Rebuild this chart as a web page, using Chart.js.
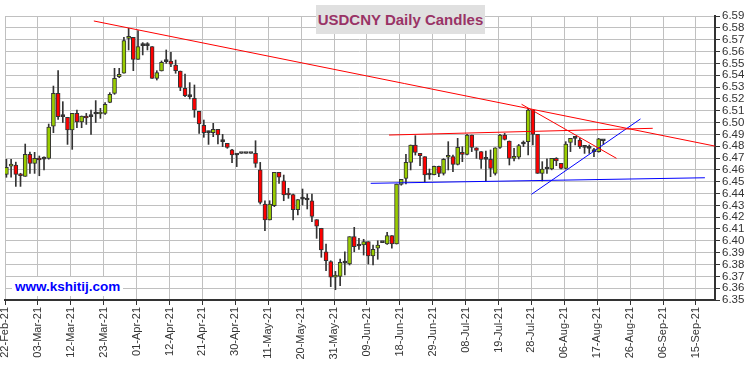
<!DOCTYPE html>
<html>
<head>
<meta charset="utf-8">
<style>
    body { margin: 0; background: #fff; }
    #wrap { position: relative; width: 750px; height: 366px; }
    #title {
        position: absolute; left: 316px; top: 5px; width: 169px; height: 29px;
        background: #e0e0e0; color: #993366; font: bold 15px "Liberation Sans", Arial, sans-serif;
        line-height: 29px; text-align: center;
    }
    #site {
        position: absolute; left: 12px; top: 277px; padding: 0 3px; background: #fff;
        color: #0000ff; font: bold 13.5px "Liberation Sans", Arial, sans-serif; line-height: 19px;
    }
</style>
</head>
<body>
<div id="wrap">
    <canvas id="myChart" width="750" height="366"></canvas>
    <div id="title">USDCNY Daily Candles</div>
    <div id="site">www.kshitij.com</div>
</div>
<script src="https://cdn.jsdelivr.net/npm/chart.js"></script>
<script>
    // daily candles, one per trading day starting 22-Feb-21
    const openP = [
        6.4562, 6.4632, 6.4640, 6.4552, 6.4545, 6.4731, 6.4655, 6.4697, 6.4690, 6.4697,
        6.4968, 6.5246, 6.5050, 6.5044, 6.4937, 6.5077, 6.5004, 6.5055, 6.5050, 6.5072,
        6.5072, 6.5077, 6.5170, 6.5246, 6.5387, 6.5416, 6.5711, 6.5720, 6.5534, 6.5650,
        6.5650, 6.5641, 6.5373, 6.5435, 6.5514, 6.5520, 6.5486, 6.5435, 6.5289, 6.5218,
        6.5204, 6.5094, 6.4976, 6.4914, 6.4914, 6.4942, 6.4838, 6.4824, 6.4768, 6.4725,
        6.4738, 6.4738, 6.4738, 6.4739, 6.4601, 6.4311, 6.4176, 6.4297, 6.4579, 6.4508,
        6.4390, 6.4390, 6.4263, 6.4353, 6.4345, 6.4339, 6.4179, 6.4106, 6.3908, 6.3824,
        6.3692, 6.3700, 6.3811, 6.3804, 6.4035, 6.3956, 6.3965, 6.3993, 6.3872, 6.3937,
        6.3985, 6.3973, 6.4044, 6.3973, 6.4476, 6.4528, 6.4663, 6.4810, 6.4739, 6.4711,
        6.4556, 6.4560, 6.4630, 6.4570, 6.4706, 6.4711, 6.4646, 6.4748, 6.4731, 6.4894,
        6.4787, 6.4754, 6.4689, 6.4689, 6.4570, 6.4790, 6.4894, 6.4844, 6.4697, 6.4706,
        6.4818, 6.4838, 6.5106, 6.4900, 6.4570, 6.4607, 6.4607, 6.4697, 6.4655, 6.4613,
        6.4832, 6.4866, 6.4852, 6.4790, 6.4782, 6.4754, 6.4754, 6.4846
    ];
    const highP = [
        6.4689, 6.4689, 6.4665, 6.4571, 6.4818, 6.4750, 6.4748, 6.4717, 6.4710, 6.4987,
        6.5308, 6.5438, 6.5176, 6.5044, 6.5077, 6.5104, 6.5055, 6.5077, 6.5105, 6.5185,
        6.5120, 6.5168, 6.5252, 6.5458, 6.5458, 6.5720, 6.5796, 6.5720, 6.5776, 6.5675,
        6.5675, 6.5641, 6.5438, 6.5520, 6.5613, 6.5593, 6.5528, 6.5435, 6.5410, 6.5337,
        6.5317, 6.5094, 6.5021, 6.4928, 6.4993, 6.4942, 6.4900, 6.4824, 6.4773, 6.4734,
        6.4738, 6.4738, 6.4738, 6.4846, 6.4663, 6.4339, 6.4339, 6.4579, 6.4579, 6.4556,
        6.4444, 6.4396, 6.4348, 6.4438, 6.4396, 6.4396, 6.4179, 6.4106, 6.3973, 6.3832,
        6.3742, 6.3846, 6.3908, 6.4035, 6.4114, 6.4021, 6.4013, 6.3993, 6.3965, 6.4001,
        6.3985, 6.4072, 6.4044, 6.4480, 6.4520, 6.4731, 6.4810, 6.4889, 6.4739, 6.4711,
        6.4607, 6.4632, 6.4632, 6.4695, 6.4838, 6.4725, 6.4866, 6.4796, 6.4900, 6.4894,
        6.4787, 6.4754, 6.4758, 6.4768, 6.4787, 6.4900, 6.4908, 6.4844, 6.4782, 6.4815,
        6.4844, 6.5120, 6.5106, 6.4900, 6.4669, 6.4692, 6.4697, 6.4703, 6.4655, 6.4838,
        6.4866, 6.4872, 6.4866, 6.4796, 6.4810, 6.4782, 6.4866, 6.4852
    ];
    const lowP = [
        6.4537, 6.4537, 6.4460, 6.4460, 6.4545, 6.4570, 6.4570, 6.4550, 6.4600, 6.4690,
        6.4914, 6.5027, 6.5000, 6.4815, 6.4773, 6.4956, 6.4956, 6.4984, 6.4900, 6.5000,
        6.5035, 6.5069, 6.5167, 6.5238, 6.5379, 6.5416, 6.5613, 6.5438, 6.5534, 6.5571,
        6.5613, 6.5373, 6.5359, 6.5435, 6.5500, 6.5472, 6.5416, 6.5269, 6.5218, 6.5199,
        6.5044, 6.4908, 6.4875, 6.4815, 6.4880, 6.4818, 6.4796, 6.4782, 6.4661, 6.4627,
        6.4738, 6.4738, 6.4738, 6.4621, 6.4311, 6.4086, 6.4176, 6.4289, 6.4486, 6.4339,
        6.4359, 6.4176, 6.4218, 6.4303, 6.4269, 6.4162, 6.4021, 6.3861, 6.3748, 6.3613,
        6.3587, 6.3621, 6.3711, 6.3796, 6.3908, 6.3928, 6.3880, 6.3804, 6.3796, 6.3844,
        6.3985, 6.3970, 6.3937, 6.3973, 6.4470, 6.4480, 6.4599, 6.4725, 6.4635, 6.4500,
        6.4520, 6.4556, 6.4542, 6.4556, 6.4599, 6.4585, 6.4641, 6.4669, 6.4725, 6.4754,
        6.4697, 6.4613, 6.4506, 6.4542, 6.4556, 6.4782, 6.4852, 6.4641, 6.4675, 6.4692,
        6.4796, 6.4725, 6.4810, 6.4570, 6.4506, 6.4570, 6.4600, 6.4635, 6.4607, 6.4607,
        6.4754, 6.4810, 6.4782, 6.4739, 6.4739, 6.4711, 6.4749, 6.4815
    ];
    const closeP = [
        6.4621, 6.4636, 6.4562, 6.4550, 6.4731, 6.4655, 6.4697, 6.4683, 6.4690, 6.4962,
        6.5246, 6.5049, 6.5050, 6.4937, 6.5077, 6.5004, 6.5055, 6.5038, 6.5050, 6.5072,
        6.5075, 6.5154, 6.5238, 6.5373, 6.5407, 6.5692, 6.5720, 6.5534, 6.5641, 6.5650,
        6.5650, 6.5373, 6.5421, 6.5508, 6.5514, 6.5492, 6.5438, 6.5297, 6.5227, 6.5218,
        6.5106, 6.4987, 6.4914, 6.4914, 6.4942, 6.4894, 6.4838, 6.4790, 6.4725, 6.4725,
        6.4738, 6.4738, 6.4738, 6.4655, 6.4325, 6.4176, 6.4311, 6.4579, 6.4537, 6.4387,
        6.4387, 6.4263, 6.4348, 6.4353, 6.4345, 6.4207, 6.4123, 6.3923, 6.3832, 6.3692,
        6.3711, 6.3818, 6.3811, 6.4035, 6.3951, 6.3956, 6.3993, 6.3872, 6.3928, 6.3965,
        6.3985, 6.4044, 6.3973, 6.4480, 6.4520, 6.4663, 6.4810, 6.4748, 6.4720, 6.4556,
        6.4556, 6.4630, 6.4570, 6.4689, 6.4717, 6.4646, 6.4790, 6.4731, 6.4894, 6.4790,
        6.4765, 6.4689, 6.4689, 6.4613, 6.4787, 6.4894, 6.4858, 6.4697, 6.4711, 6.4804,
        6.4818, 6.5106, 6.4900, 6.4570, 6.4607, 6.4607, 6.4697, 6.4675, 6.4613, 6.4818,
        6.4866, 6.4866, 6.4796, 6.4790, 6.4782, 6.4754, 6.4861, 6.4846
    ];

    // x labels, one every 7 trading days
    const tickLabels = [
        '22-Feb-21', '03-Mar-21', '12-Mar-21', '23-Mar-21', '01-Apr-21', '12-Apr-21',
        '21-Apr-21', '30-Apr-21', '11-May-21', '20-May-21', '31-May-21', '09-Jun-21',
        '18-Jun-21', '29-Jun-21', '08-Jul-21', '19-Jul-21', '28-Jul-21', '06-Aug-21',
        '17-Aug-21', '26-Aug-21', '06-Sep-21', '15-Sep-21'
    ];

    // trend lines: [start, end] in (day index, price)
    const longDownX = [18.6, 150.7];   const longDownY = [6.5858, 6.4801];
    const resistX   = [81.4, 137.5];   const resistY   = [6.4894, 6.4951];
    const shortDownX = [109.6, 129.8]; const shortDownY = [6.5154, 6.4697];
    const supportX  = [77.5, 148.6];   const supportY  = [6.4486, 6.4533];
    const riseX     = [111.7, 134.9];  const riseY     = [6.4393, 6.5030];

    const GREEN = '#99cc00', RED = '#ff0000', DARK = '#333333';

    let bodies = [], wicks = [], fills = [];
    for (let i = 0; i < openP.length; i++) {
        bodies.push({x: i, y: [openP[i], closeP[i]]});
        wicks.push({x: i, y: [lowP[i], highP[i]]});
        fills.push(closeP[i] > openP[i] ? GREEN : (closeP[i] < openP[i] ? RED : DARK));
    }

    function trend(xs, ys, color) {
        return {
            type: 'line',
            data: [{x: xs[0], y: ys[0]}, {x: xs[1], y: ys[1]}],
            borderColor: color,
            borderWidth: 1,
            pointRadius: 0,
            fill: false,
            order: 0
        };
    }

    const ctx = document.getElementById('myChart');
    new Chart(ctx, {
        type: 'bar',
        data: {
            datasets: [
                {
                    data: wicks,
                    backgroundColor: DARK,
                    borderWidth: 0,
                    barThickness: 1,
                    grouped: false,
                    order: 2
                },
                {
                    data: bodies,
                    backgroundColor: fills,
                    borderColor: DARK,
                    borderWidth: 1,
                    borderSkipped: false,
                    barThickness: 4,
                    minBarLength: 2,
                    grouped: false,
                    order: 1
                },
                trend(longDownX, longDownY, '#ff0000'),
                trend(resistX, resistY, '#ff0000'),
                trend(shortDownX, shortDownY, '#ff0000'),
                trend(supportX, supportY, '#0000ff'),
                trend(riseX, riseY, '#0000ff')
            ]
        },
        options: {
            responsive: false,
            animation: false,
            devicePixelRatio: 1,
            layout: { padding: { left: 5, top: 16, right: 0, bottom: 0 } },
            plugins: { legend: { display: false }, tooltip: { enabled: false } },
            scales: {
                x: {
                    type: 'linear',
                    min: -0.3,
                    max: 150.75,
                    offset: false,
                    grid: { offset: false, color: '#c0c0c0', tickColor: '#333', tickLength: 5 },
                    border: { color: '#333', width: 2 },
                    afterBuildTicks: function(axis) {
                        axis.ticks = tickLabels.map(function(_, k) { return {value: k * 7 - 0.3}; });
                    },
                    afterFit: function(axis) { axis.height = 66; },
                    ticks: {
                        autoSkip: false,
                        maxRotation: 90,
                        minRotation: 90,
                        padding: 2,
                        color: '#333',
                        font: { family: '"Liberation Sans", Arial, sans-serif', size: 11 },
                        callback: function(v, i) { return tickLabels[i]; }
                    }
                },
                y: {
                    position: 'right',
                    min: 6.35,
                    max: 6.59,
                    beginAtZero: false,
                    grid: { color: '#c0c0c0', tickColor: '#333', tickLength: 5 },
                    border: { color: '#333', width: 2 },
                    afterFit: function(axis) { axis.width = 35; },
                    ticks: {
                        stepSize: 0.01,
                        autoSkip: false,
                        padding: 2,
                        color: '#333',
                        font: { family: '"Liberation Sans", Arial, sans-serif', size: 11.5 },
                        callback: function(v) { return Number(v).toFixed(2); }
                    }
                }
            }
        }
    });
</script>
</body>
</html>
